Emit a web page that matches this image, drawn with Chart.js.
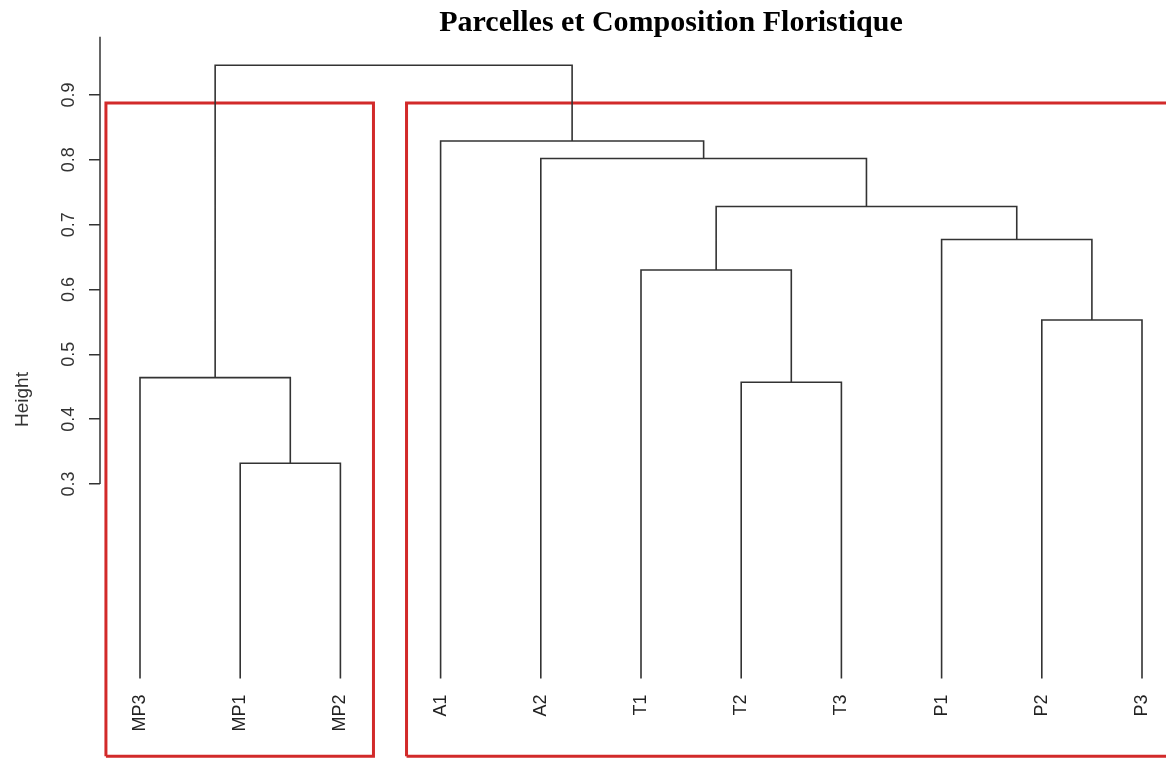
<!DOCTYPE html>
<html>
<head>
<meta charset="utf-8">
<title>Parcelles et Composition Floristique</title>
<script src="https://cdn.jsdelivr.net/npm/chart.js@4.4.1/dist/chart.umd.min.js"></script>
<style>
  html, body { margin: 0; padding: 0; background: #fff; }
  canvas { display: block; }
</style>
</head>
<body>
<canvas id="dendro" width="1166" height="758"></canvas>
<script>
// leaves, in the order the dendrogram shows them
var leafLabels = ['MP3', 'MP1', 'MP2', 'A1', 'A2', 'T1', 'T2', 'T3', 'P1', 'P2', 'P3'];

// hclust style merges: negative = leaf number, positive = earlier merge
var mergeA = [-2, -7, -1, -10, -6, -9, 5, -5, -4, 3];
var mergeB = [-3, -8, 1, -11, 2, 4, 6, 7, 8, 9];
var mergeHeight = [0.332, 0.457, 0.464, 0.553, 0.630, 0.677, 0.728, 0.802, 0.829, 0.946];

var yTicks = [0.3, 0.4, 0.5, 0.6, 0.7, 0.8, 0.9];

// rect.hclust(k = 2): number of leaves in each red box, left to right
var groupSizes = [3, 8];

// build the U shaped branches
var mergeX = [];
var branches = [];
function child(c) {
  if (c < 0) return { x: -c, h: 0 };
  return { x: mergeX[c - 1], h: mergeHeight[c - 1] };
}
for (var i = 0; i < mergeHeight.length; i++) {
  var a = child(mergeA[i]), b = child(mergeB[i]), h = mergeHeight[i];
  mergeX.push((a.x + b.x) / 2);
  branches.push({ x: a.x, y: a.h }, { x: a.x, y: h }, { x: b.x, y: h }, { x: b.x, y: b.h }, { x: b.x, y: null });
}

// red boxes
var n = mergeHeight.length;
var cutHeight = (mergeHeight[n - 1] + mergeHeight[n - 2]) / 2;
var boxBottom = -0.12;
var boxes = [];
var start = 1;
groupSizes.forEach(function(size) {
  var left = start - 1 + 0.66, right = start + size - 1 + 0.33;
  boxes.push({ x: left, y: boxBottom }, { x: left, y: cutHeight }, { x: right, y: cutHeight },
             { x: right, y: boxBottom }, { x: left, y: boxBottom }, { x: left, y: null });
  start += size;
});

var inkColor = '#333';

// labels are far from the edges, so no extra room is needed for them
function noPadding(scale) {
  scale.paddingLeft = scale.paddingRight = scale.paddingTop = scale.paddingBottom = 0;
}

var rStyle = {
  id: 'rStyle',
  afterLayout: function(chart) {
    // R centres the title over its own plot region
    chart.titleBlock.left += 88;
    chart.titleBlock.right += 88;
  },
  afterDraw: function(chart) {
    var y = chart.scales.y, ctx = chart.ctx;
    ctx.save();
    ctx.strokeStyle = inkColor;
    ctx.lineWidth = 1.5;
    ctx.beginPath();
    ctx.moveTo(y.right, y.getPixelForValue(yTicks[0]));
    ctx.lineTo(y.right, y.getPixelForValue(0.99));
    ctx.stroke();
    ctx.restore();
  }
};

new Chart(document.getElementById('dendro'), {
  type: 'scatter',
  data: {
    datasets: [{
      data: branches,
      showLine: true,
      borderColor: inkColor,
      borderWidth: 1.6,
      borderJoinStyle: 'miter',
      pointRadius: 0,
      spanGaps: false
    }, {
      data: boxes,
      showLine: true,
      borderColor: '#d22a2a',
      borderWidth: 3,
      borderJoinStyle: 'miter',
      pointRadius: 0,
      spanGaps: false,
      clip: false
    }]
  },
  options: {
    responsive: false,
    animation: false,
    layout: { padding: 0, autoPadding: false },
    plugins: {
      legend: { display: false },
      tooltip: { enabled: false },
      title: {
        display: true,
        text: 'Parcelles et Composition Floristique',
        color: '#000',
        font: { family: '"Liberation Serif", "Times New Roman", serif', size: 30, weight: 'bold' },
        padding: { top: 5, bottom: 0 }
      }
    },
    scales: {
      x: {
        type: 'linear',
        min: 0.6008,
        max: 11.2395,
        position: { y: 0 },
        grid: { display: false, drawTicks: false },
        border: { display: false },
        afterFit: noPadding,
        afterBuildTicks: function(scale) {
          scale.ticks = leafLabels.map(function(l, i) { return { value: i + 1 }; });
        },
        ticks: {
          autoSkip: false,
          minRotation: 90,
          maxRotation: 90,
          padding: 16,
          color: '#222',
          font: { family: '"Liberation Sans", Arial, sans-serif', size: 18 },
          callback: function(v) { return leafLabels[v - 1]; }
        }
      },
      y: {
        type: 'linear',
        min: -0.12267,
        max: 0.9833,
        afterFit: function(scale) { scale.width = 100; noPadding(scale); },
        afterBuildTicks: function(scale) {
          scale.ticks = yTicks.map(function(v) { return { value: v }; });
        },
        grid: { drawOnChartArea: false, drawTicks: true, tickLength: 11, color: inkColor, lineWidth: 1.5 },
        border: { display: false },
        ticks: {
          minRotation: 90,
          maxRotation: 90,
          crossAlign: 'center',
          padding: 7,
          color: '#333',
          font: { family: '"Liberation Sans", Arial, sans-serif', size: 18 },
          callback: function(v) { return v.toFixed(1); }
        },
        title: {
          display: true,
          text: 'Height',
          color: '#333',
          font: { family: '"Liberation Sans", Arial, sans-serif', size: 19 },
          padding: { top: 11, bottom: 0 }
        }
      }
    }
  },
  plugins: [rStyle]
});
</script>
</body>
</html>
